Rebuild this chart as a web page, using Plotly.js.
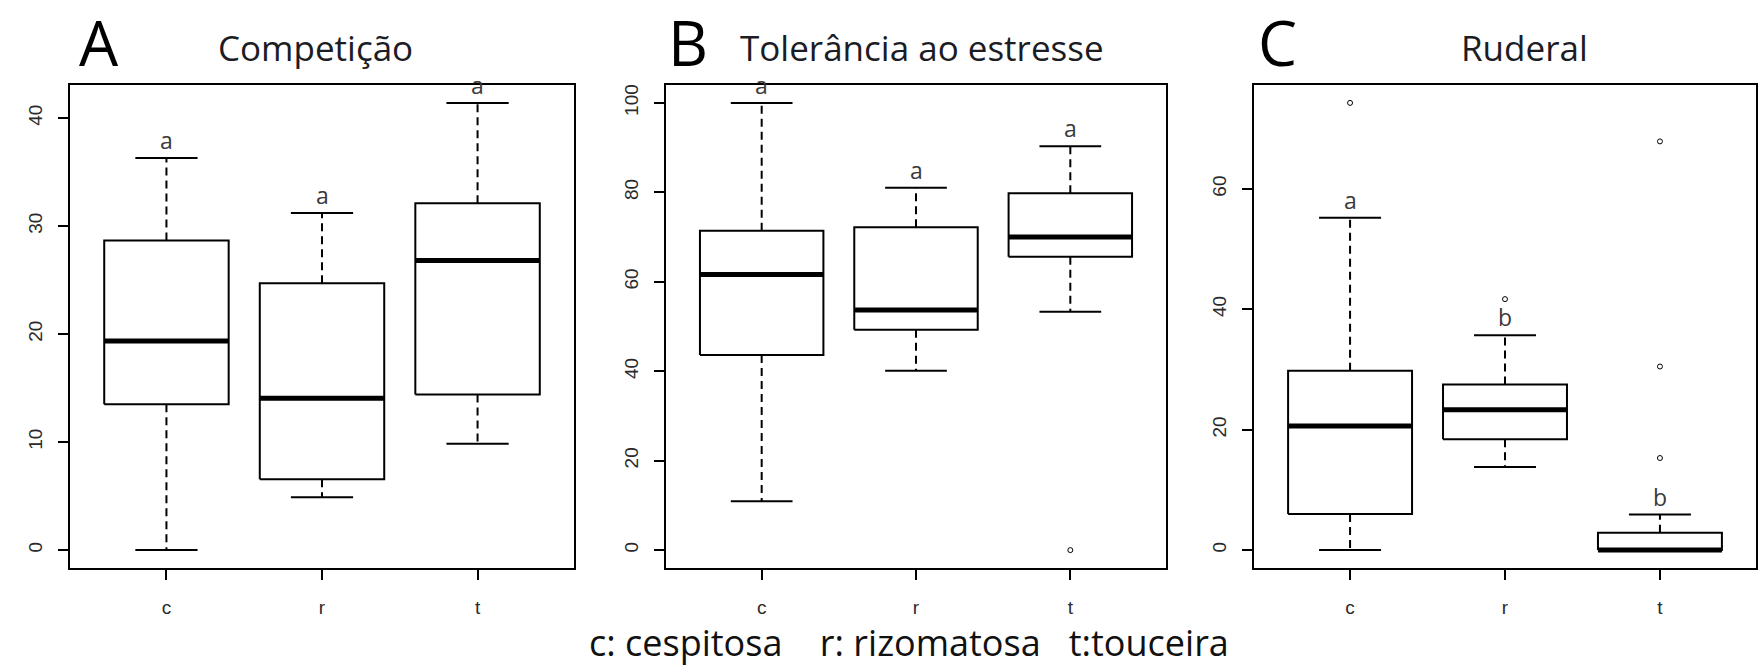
<!DOCTYPE html>
<html>
<head>
<meta charset="utf-8">
<script src="https://cdn.plot.ly/plotly-3.0.1.min.js"></script>
<style>html,body{margin:0;padding:0;background:#fff;}#chart{width:1761px;height:669px;}</style>
</head>
<body>
<div id="chart"></div>
<script>
// ---------- data ----------
const categories = ['c', 'r', 't'];
const categoryNames = ['c: cespitosa', 'r: rizomatosa', 't:touceira'];

// Panel A - Competição
const compLower  = [0.0, 4.9, 9.85];
const compQ1     = [13.5, 6.55, 14.4];
const compMedian = [19.35, 14.05, 26.8];
const compQ3     = [28.65, 24.7, 32.1];
const compUpper  = [36.3, 31.2, 41.4];
const compOutliers = [[], [], []];
const compLetters = ['a', 'a', 'a'];
const compTicks = [0, 10, 20, 30, 40];

// Panel B - Tolerância ao estresse
const tolLower  = [10.9, 40.1, 53.3];
const tolQ1     = [43.6, 49.3, 65.6];
const tolMedian = [61.6, 53.7, 70.0];
const tolQ3     = [71.4, 72.2, 79.8];
const tolUpper  = [100.0, 81.0, 90.3];
const tolOutliers = [[], [], [0.0]];
const tolLetters = ['a', 'a', 'a'];
const tolTicks = [0, 20, 40, 60, 80, 100];

// Panel C - Ruderal
const rudLower  = [0.0, 13.8, 0.0];
const rudQ1     = [6.0, 18.4, 0.0];
const rudMedian = [20.6, 23.3, 0.0];
const rudQ3     = [29.8, 27.5, 2.9];
const rudUpper  = [55.2, 35.7, 5.9];
const rudOutliers = [[74.3], [41.7], [67.9, 30.5, 15.3]];
const rudLetters = ['a', 'b', 'b'];
const rudTicks = [0, 20, 40, 60];

const panelLetters = ['A', 'B', 'C'];
const panelTitles = ['Competição', 'Tolerância ao estresse', 'Ruderal'];

// ---------- construction ----------
const panels = [
  {lower: compLower, q1: compQ1, med: compMedian, q3: compQ3, upper: compUpper, out: compOutliers, letters: compLetters, ticks: compTicks},
  {lower: tolLower, q1: tolQ1, med: tolMedian, q3: tolQ3, upper: tolUpper, out: tolOutliers, letters: tolLetters, ticks: tolTicks},
  {lower: rudLower, q1: rudQ1, med: rudMedian, q3: rudQ3, upper: rudUpper, out: rudOutliers, letters: rudLetters, ticks: rudTicks}
];

const W = 1761, H = 669;
const xDomainsPx = [[70, 574], [666, 1166], [1254, 1756]];
const yTopPx = 85, yBotPx = 568;
const boxHalf = 0.4, capHalf = 0.2;
const pos = categories.map((c, i) => i + 1);

const traces = [];
const layout = {
  width: W, height: H,
  margin: {l: 0, r: 0, t: 0, b: 0},
  paper_bgcolor: '#ffffff', plot_bgcolor: '#ffffff',
  showlegend: false,
  hovermode: false,
  annotations: []
};

const tickFont = {family: 'Liberation Sans, Arial, sans-serif', size: 19, color: '#2a2a2a'};
const textFamily = 'Open Sans, Noto Sans, sans-serif';

panels.forEach((p, k) => {
  const xa = k === 0 ? 'x' : 'x' + (k + 1);
  const ya = k === 0 ? 'y' : 'y' + (k + 1);
  const xKey = k === 0 ? 'xaxis' : 'xaxis' + (k + 1);
  const yKey = k === 0 ? 'yaxis' : 'yaxis' + (k + 1);

  const bx = [], by = [];
  const mx = [], my = [];
  const wx = [], wy = [];
  const cx = [], cy = [];
  const ox = [], oy = [];
  pos.forEach((xc, i) => {
    bx.push(xc - boxHalf, xc + boxHalf, xc + boxHalf, xc - boxHalf, xc - boxHalf, null);
    by.push(p.q1[i], p.q1[i], p.q3[i], p.q3[i], p.q1[i], null);
    mx.push(xc - boxHalf, xc + boxHalf, null);
    my.push(p.med[i], p.med[i], null);
    wx.push(xc, xc, null, xc, xc, null);
    wy.push(p.q3[i], p.upper[i], null, p.q1[i], p.lower[i], null);
    cx.push(xc - capHalf, xc + capHalf, null, xc - capHalf, xc + capHalf, null);
    cy.push(p.upper[i], p.upper[i], null, p.lower[i], p.lower[i], null);
    p.out[i].forEach(v => { ox.push(xc); oy.push(v); });
    layout.annotations.push({
      xref: xa, yref: ya, x: xc, y: p.upper[i],
      text: p.letters[i], showarrow: false, xanchor: 'center', yanchor: 'bottom',
      yshift: 0, font: {family: textFamily, size: 23, color: '#3a3a3a'}
    });
  });

  traces.push({type: 'scatter', mode: 'lines', xaxis: xa, yaxis: ya, x: wx, y: wy,
    line: {color: '#000', width: 2, dash: '8px,5px'}, hoverinfo: 'skip'});
  traces.push({type: 'scatter', mode: 'lines', xaxis: xa, yaxis: ya, x: cx, y: cy,
    line: {color: '#000', width: 2}, hoverinfo: 'skip'});
  traces.push({type: 'scatter', mode: 'lines', xaxis: xa, yaxis: ya, x: bx, y: by,
    line: {color: '#000', width: 2}, hoverinfo: 'skip'});
  traces.push({type: 'scatter', mode: 'lines', xaxis: xa, yaxis: ya, x: mx, y: my,
    line: {color: '#000', width: 5}, hoverinfo: 'skip'});
  if (ox.length) {
    traces.push({type: 'scatter', mode: 'markers', xaxis: xa, yaxis: ya, x: ox, y: oy,
      marker: {symbol: 'circle-open', size: 5, color: '#000', line: {width: 1, color: '#000'}}, hoverinfo: 'skip'});
  }

  // ranges like R (4% extension)
  const all = [].concat(p.lower, p.upper, ...p.out);
  const lo = Math.min(...all), hi = Math.max(...all);
  const pad = 0.04 * (hi - lo);
  const xpad = 0.04 * 3;

  const d = xDomainsPx[k];
  layout[xKey] = {
    domain: [d[0] / W, d[1] / W],
    anchor: ya,
    range: [0.5 - xpad, 3.5 + xpad],
    tickmode: 'array', tickvals: pos, ticktext: categories,
    ticks: 'outside', ticklen: 10, tickwidth: 2, tickcolor: '#000',
    showline: true, linecolor: '#000', linewidth: 2, mirror: true,
    showgrid: false, zeroline: false,
    tickfont: tickFont, ticklabelstandoff: 11, fixedrange: true
  };
  layout[yKey] = {
    domain: [1 - yBotPx / H, 1 - yTopPx / H],
    anchor: xa,
    range: [lo - pad, hi + pad],
    tickmode: 'array', tickvals: p.ticks, ticktext: p.ticks.map(String),
    ticks: 'outside', ticklen: 10, tickwidth: 2, tickcolor: '#000',
    tickangle: -90,
    showline: true, linecolor: '#000', linewidth: 2, mirror: true,
    showgrid: false, zeroline: false,
    tickfont: tickFont, ticklabelstandoff: 8, fixedrange: true
  };
});

// panel letters and titles
const letterX = [99, 688, 1277];
const titleX = [315, 922, 1524];
panelLetters.forEach((L, k) => {
  layout.annotations.push({xref: 'paper', yref: 'paper', x: letterX[k] / W, y: 1 - 42 / H,
    text: L, showarrow: false, xanchor: 'center', yanchor: 'middle',
    font: {family: textFamily, size: 62, color: '#000'}});
  layout.annotations.push({xref: 'paper', yref: 'paper', x: titleX[k] / W, y: 1 - 48 / H,
    text: panelTitles[k], showarrow: false, xanchor: 'center', yanchor: 'middle',
    font: {family: textFamily, size: 35, color: '#1c1c24'}});
});

// bottom key
layout.annotations.push({xref: 'paper', yref: 'paper', x: 909 / W, y: 0,
  text: categoryNames[0] + '&nbsp;&nbsp;&nbsp;&nbsp;' + categoryNames[1] + '&nbsp;&nbsp;&nbsp;' + categoryNames[2],
  showarrow: false, xanchor: 'center', yanchor: 'bottom',
  font: {family: textFamily, size: 36, color: '#111'}});

Plotly.newPlot('chart', traces, layout, {staticPlot: true, displayModeBar: false});
</script>
</body>
</html>
